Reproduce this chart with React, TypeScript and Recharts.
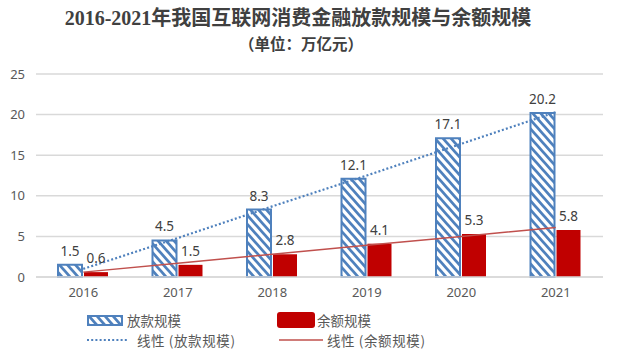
import React from 'react';
import { ComposedChart, Bar, Line, XAxis, YAxis, CartesianGrid, LabelList } from 'recharts';

const categories = ['2016', '2017', '2018', '2019', '2020', '2021'];
const loans = [1.5, 4.5, 8.3, 12.1, 17.1, 20.2];
const balance = [0.6, 1.5, 2.8, 4.1, 5.3, 5.8];
const loanTrend = [1.0, 4.8, 8.7, 12.5, 16.4, 20.3];
const balanceTrend = [0.6, 1.7, 2.8, 3.9, 5.0, 6.1];
const yTicks = [0, 5, 10, 15, 20, 25];

const data = categories.map((c, i) => ({
  year: c,
  loans: loans[i],
  balance: balance[i],
  loanTrend: loanTrend[i],
  balanceTrend: balanceTrend[i],
}));

const BLUE = '#4F81BD';
const RED = '#C00000';
const TEXT = '#595959';
const LATIN = "'Noto Sans', 'Noto Sans CJK SC', sans-serif";
const CJK = "'Noto Sans CJK SC', 'Noto Sans', sans-serif";

const HatchDefs = ({ id }: { id: string }) => (
  <defs>
    <pattern id={id} patternUnits="userSpaceOnUse" width={8} height={9}>
      <rect x={0} y={0} width={8} height={9} fill="#ffffff" />
      <path d="M0,0 L8,9 M-2,6.75 L2,11.25 M6,-2.25 L10,2.25" stroke={BLUE} strokeWidth={2.8} />
    </pattern>
  </defs>
);

export default function App() {
  return (
    <div style={{ position: 'absolute', left: 0, top: 0, width: 618, height: 355, background: '#fff' }}>
      <div
        style={{
          position: 'absolute', left: 0, top: 5, width: 596, textAlign: 'center',
          fontFamily: "'Liberation Serif', 'Noto Sans CJK SC', serif", fontWeight: 600,
          fontSize: 20, color: '#404040', lineHeight: '26px', whiteSpace: 'nowrap',
        }}
      >
        2016-2021年我国互联网消费金融放款规模与余额规模
      </div>
      <div
        style={{
          position: 'absolute', left: 0, top: 32, width: 602, textAlign: 'center',
          fontFamily: "'Noto Sans CJK SC', serif", fontWeight: 600,
          fontSize: 15.5, color: '#404040', lineHeight: '22px', whiteSpace: 'nowrap',
        }}
      >
        （单位：万亿元）
      </div>
      <ComposedChart
        width={618}
        height={355}
        data={data}
        margin={{ top: 74, right: 15, bottom: 48, left: 0 }}
        barSize={24}
        barGap={2}
      >
        <HatchDefs id="hatch" />
        <CartesianGrid vertical={false} stroke="#D9D9D9" strokeWidth={1.5} />
        <XAxis
          dataKey="year"
          axisLine={{ stroke: '#D9D9D9', strokeWidth: 1.5 }}
          tickLine={false}
          tickSize={0}
          tickMargin={11}
          height={30}
          tick={{ fill: TEXT, fontSize: 13, fontFamily: LATIN }}
        />
        <YAxis
          domain={[0, 25]}
          ticks={yTicks}
          width={36}
          axisLine={false}
          tickLine={false}
          tickSize={0}
          tickMargin={11}
          tick={{ fill: TEXT, fontSize: 13, fontFamily: LATIN }}
        />
        <Bar dataKey="loans" fill="url(#hatch)" stroke={BLUE} strokeWidth={2} isAnimationActive={false}>
          <LabelList dataKey="loans" position="top" offset={9} fill="#404040" fontSize={13.5} fontFamily={LATIN} />
        </Bar>
        <Bar dataKey="balance" fill={RED} isAnimationActive={false}>
          <LabelList dataKey="balance" position="top" offset={9} fill="#404040" fontSize={13.5} fontFamily={LATIN} />
        </Bar>
        <Line
          dataKey="loanTrend"
          type="linear"
          stroke={BLUE}
          strokeWidth={2.2}
          strokeDasharray="2 2.2"
          dot={false}
          activeDot={false}
          isAnimationActive={false}
        />
        <Line
          dataKey="balanceTrend"
          type="linear"
          stroke="#C0504D"
          strokeWidth={1.5}
          dot={false}
          activeDot={false}
          isAnimationActive={false}
        />
      </ComposedChart>
      <svg style={{ position: 'absolute', left: 0, top: 0 }} width={618} height={355} pointerEvents="none">
        <HatchDefs id="hatchLegend" />
        <rect x={88} y={316} width={34} height={9} fill="url(#hatchLegend)" stroke={BLUE} strokeWidth={2} />
        <rect x={277} y={312} width={38} height={16} rx={3} fill={RED} />
        <line x1={87} y1={340} x2={127} y2={340} stroke={BLUE} strokeWidth={2.2} strokeDasharray="2 2.2" />
        <line x1={279} y1={340} x2={323} y2={340} stroke="#C0504D" strokeWidth={1.5} />
      </svg>
      <div style={{ position: 'absolute', left: 127, top: 311, fontFamily: CJK, fontSize: 13.5, color: TEXT, lineHeight: '18px', whiteSpace: 'nowrap' }}>
        放款规模
      </div>
      <div style={{ position: 'absolute', left: 317, top: 311, fontFamily: CJK, fontSize: 13.5, color: TEXT, lineHeight: '18px', whiteSpace: 'nowrap' }}>
        余额规模
      </div>
      <div style={{ position: 'absolute', left: 137, top: 331, fontFamily: CJK, fontSize: 13.5, color: TEXT, lineHeight: '18px', whiteSpace: 'nowrap', letterSpacing: 0.6 }}>
        线性 (放款规模)
      </div>
      <div style={{ position: 'absolute', left: 327, top: 331, fontFamily: CJK, fontSize: 13.5, color: TEXT, lineHeight: '18px', whiteSpace: 'nowrap', letterSpacing: 0.6 }}>
        线性 (余额规模)
      </div>
    </div>
  );
}
